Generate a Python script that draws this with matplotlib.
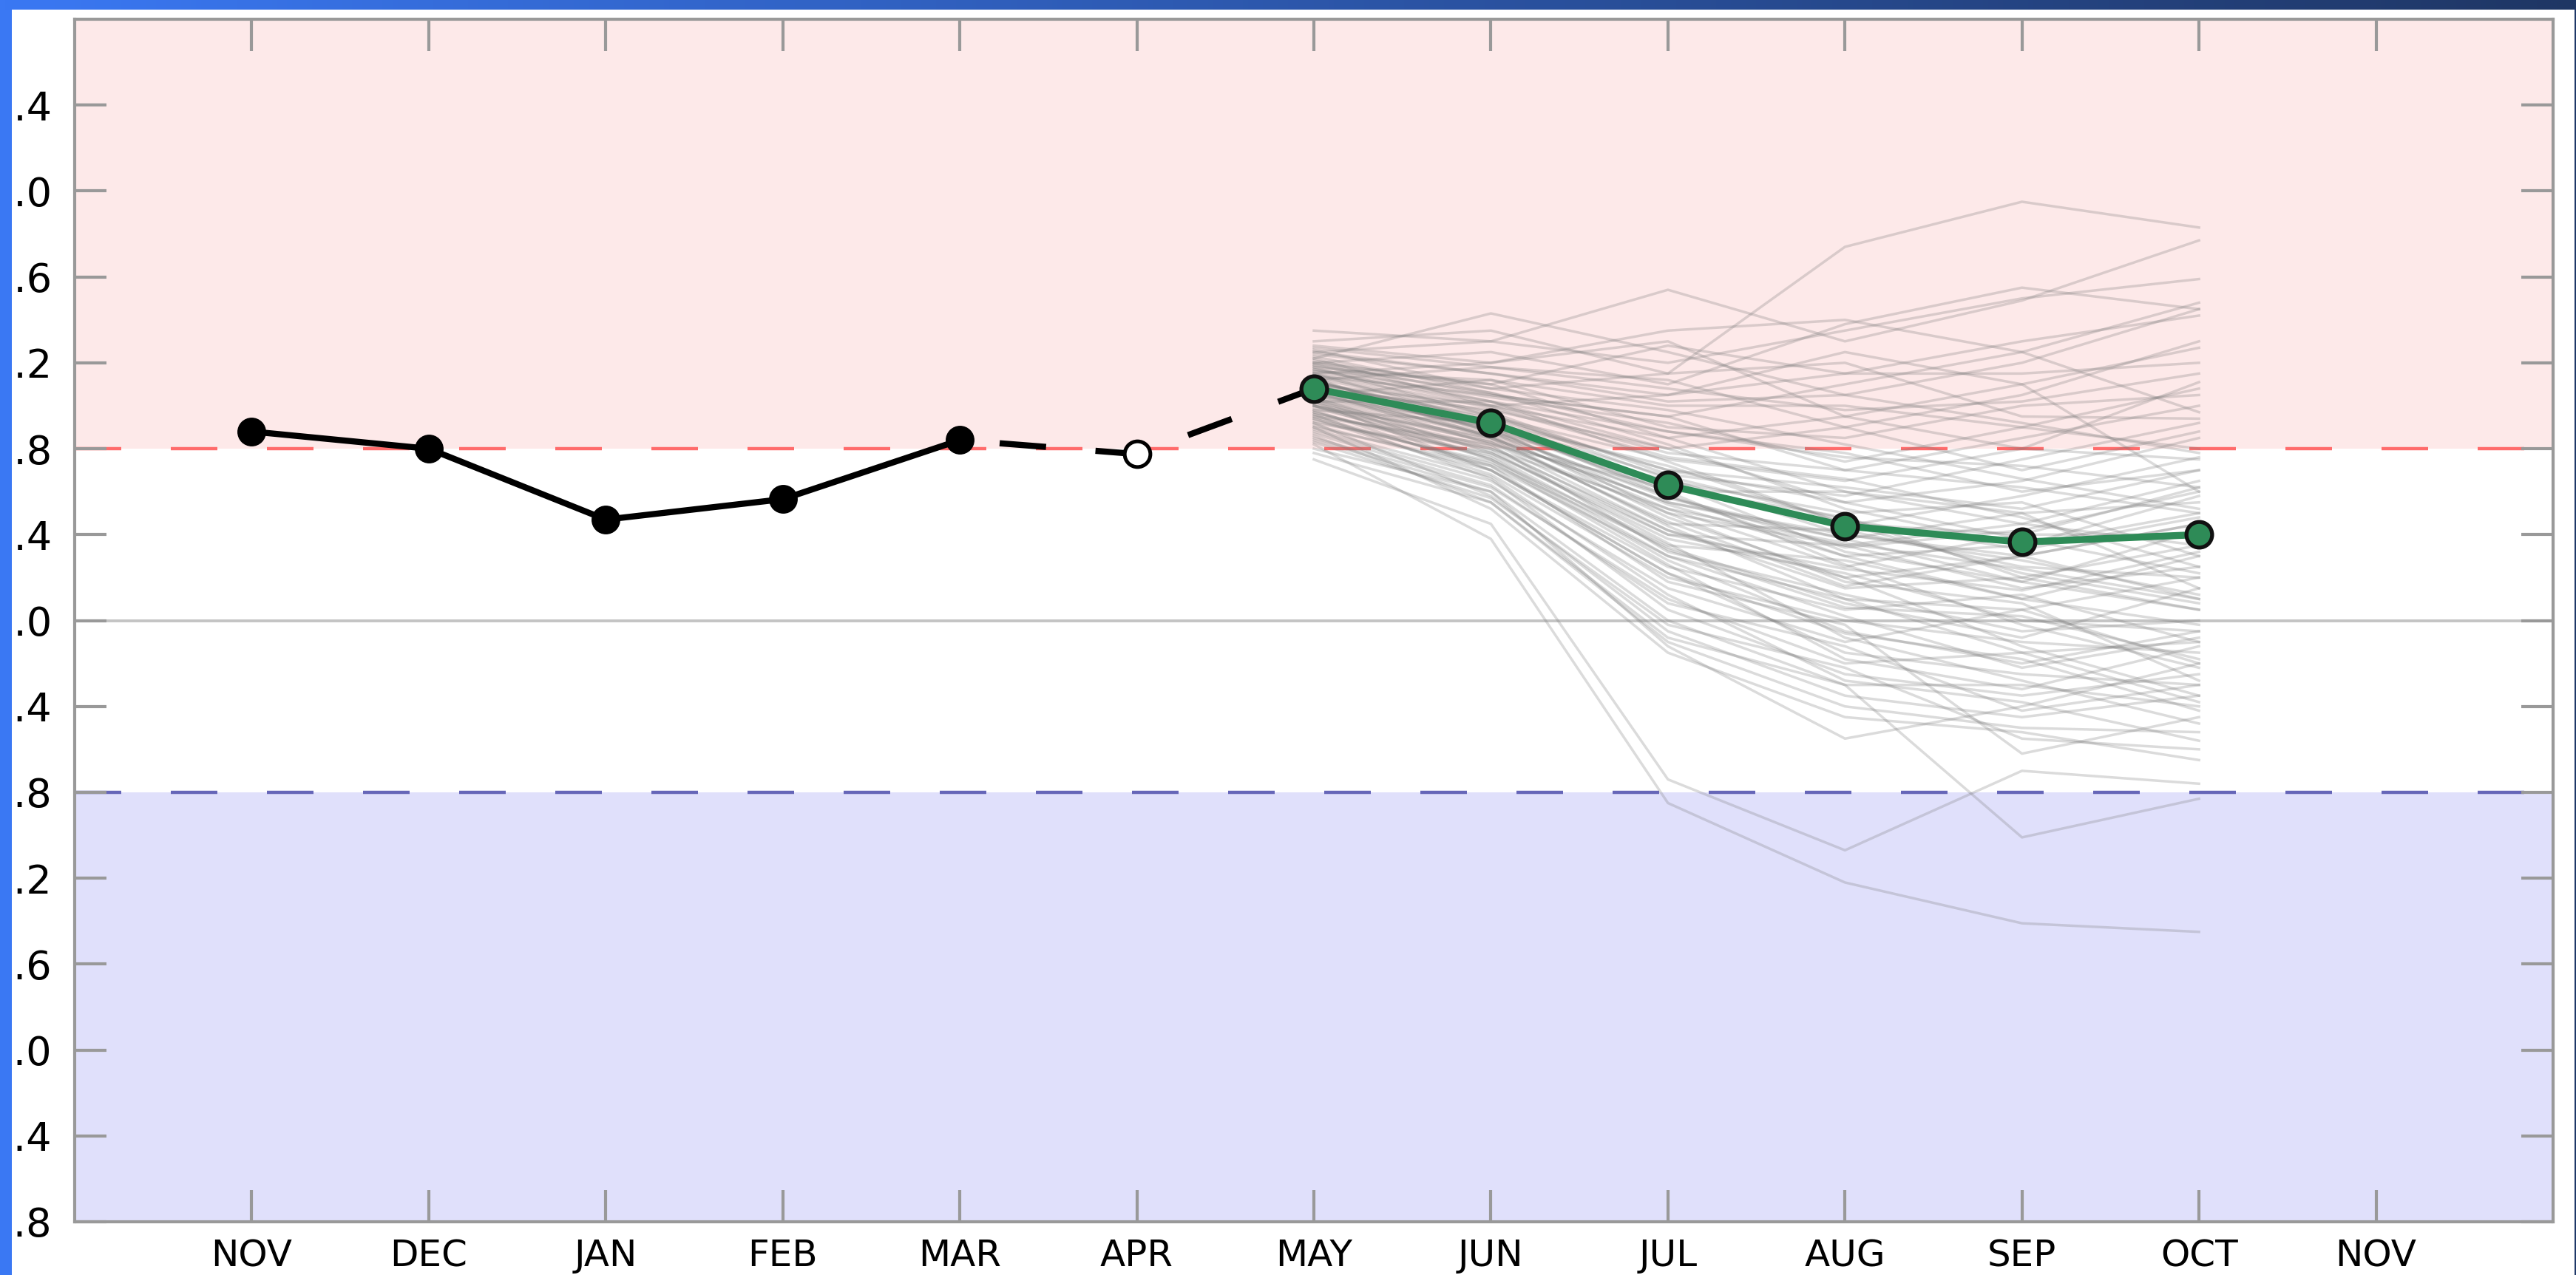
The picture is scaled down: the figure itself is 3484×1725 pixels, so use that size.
import numpy as np
import matplotlib
matplotlib.use("Agg")
import matplotlib.pyplot as plt
from matplotlib.patches import Rectangle

plt.rcParams['font.family'] = ['DejaVu Sans']
plt.rcParams['lines.scale_dashes'] = False

# ---------------- data ----------------
month_labels = ['NOV', 'DEC', 'JAN', 'FEB', 'MAR', 'APR', 'MAY',
                'JUN', 'JUL', 'AUG', 'SEP', 'OCT', 'NOV']
obs_months = [0, 1, 2, 3, 4]                 # NOV .. MAR
obs_values = [0.88, 0.80, 0.47, 0.565, 0.84]
link_months = [4, 5, 6]                      # MAR, APR, MAY (dashed)
link_values = [0.84, 0.775, 1.08]
open_month = [5]                             # APR (open marker)
open_value = [0.775]
fc_months = [6, 7, 8, 9, 10, 11]             # MAY .. OCT
fc_mean = [1.08, 0.92, 0.63, 0.44, 0.365, 0.40]

# ensemble members: MAY, JUN, JUL, AUG, SEP, OCT
ensemble_members = [
    [1.30, 1.35, 1.15, 1.74, 1.95, 1.83],
    [1.22, 1.43, 1.25, 1.05, 1.20, 1.45],
    [1.25, 1.30, 1.54, 1.30, 1.49, 1.77],
    [1.35, 1.30, 1.20, 1.35, 1.50, 1.59],
    [1.28, 1.20, 1.35, 1.40, 1.25, 1.48],
    [1.20, 1.25, 1.10, 1.38, 1.55, 1.45],
    [1.18, 1.10, 1.28, 1.15, 1.30, 1.42],
    [1.24, 1.15, 1.05, 1.25, 1.10, 1.27],
    [1.15, 1.20, 1.30, 0.95, 0.80, 1.11],
    [1.20, 1.05, 0.95, 1.10, 1.25, 0.97],
    [1.12, 1.18, 1.12, 0.90, 1.05, 1.30],
    [1.26, 1.08, 1.15, 1.20, 0.95, 0.94],
    [1.10, 1.00, 1.05, 1.15, 1.15, 1.20],
    [1.16, 1.12, 0.90, 0.85, 1.00, 1.05],
    [1.05, 1.12, 1.00, 1.00, 0.90, 0.80],
    [1.22, 1.00, 0.85, 0.95, 1.10, 0.60],
    [1.14, 1.05, 0.95, 0.70, 0.85, 1.00],
    [1.08, 0.98, 0.80, 0.90, 0.70, 0.88],
    [1.18, 0.95, 0.75, 0.65, 0.80, 0.75],
    [1.02, 1.02, 0.88, 0.78, 0.60, 0.70],
    [1.10, 0.95, 0.70, 0.55, 0.65, 0.85],
    [1.05, 0.90, 0.60, 0.60, 0.50, 0.55],
    [0.98, 0.92, 0.72, 0.45, 0.40, 0.62],
    [1.12, 0.88, 0.65, 0.50, 0.55, 0.30],
    [1.00, 0.85, 0.55, 0.40, 0.30, 0.45],
    [1.06, 0.90, 0.50, 0.35, 0.45, 0.65],
    [0.95, 0.82, 0.62, 0.48, 0.20, 0.35],
    [1.15, 0.92, 0.58, 0.30, 0.35, 0.50],
    [1.08, 0.85, 0.45, 0.42, 0.25, 0.20],
    [1.00, 0.80, 0.52, 0.25, 0.40, 0.40],
    [0.92, 0.78, 0.40, 0.35, 0.15, 0.25],
    [1.10, 0.88, 0.48, 0.20, 0.30, 0.10],
    [1.03, 0.75, 0.35, 0.28, 0.10, 0.30],
    [0.96, 0.80, 0.42, 0.15, 0.20, 0.05],
    [1.13, 0.85, 0.55, 0.38, 0.50, 0.15],
    [0.90, 0.72, 0.30, 0.10, 0.05, 0.20],
    [1.04, 0.78, 0.38, 0.22, 0.00, -0.05],
    [0.98, 0.70, 0.25, 0.05, 0.12, -0.10],
    [1.07, 0.82, 0.32, 0.12, -0.05, 0.00],
    [0.94, 0.68, 0.20, 0.00, -0.10, -0.15],
    [1.00, 0.75, 0.28, -0.05, -0.20, -0.05],
    [0.88, 0.65, 0.15, -0.10, 0.05, -0.20],
    [1.02, 0.70, 0.22, -0.15, -0.25, -0.30],
    [0.85, 0.62, 0.10, -0.20, -0.15, -0.10],
    [0.96, 0.66, 0.05, -0.25, -0.35, -0.25],
    [0.80, 0.60, 0.00, -0.30, -0.30, -0.40],
    [0.92, 0.58, -0.05, -0.35, -0.45, -0.35],
    [0.78, 0.55, -0.10, -0.40, -0.50, -0.52],
    [0.90, 0.52, -0.15, -0.45, -0.52, -0.65],
    [0.84, 0.60, -0.12, -0.55, -0.40, -0.20],
    [0.75, 0.45, -0.74, -1.07, -0.70, -0.76],
    [0.82, 0.38, -0.85, -1.22, -1.41, -1.45],
    [0.86, 0.55, -0.08, -0.30, -1.01, -0.83],
    [0.95, 0.72, 0.18, -0.02, -0.62, -0.45],
    [1.20, 1.10, 0.85, 0.60, 0.45, 0.35],
    [1.17, 1.00, 0.78, 0.70, 0.62, 0.50],
    [1.23, 1.06, 0.82, 0.52, 0.35, 0.58],
    [1.14, 0.97, 0.68, 0.58, 0.75, 0.92],
    [1.11, 0.93, 0.64, 0.32, 0.18, 0.42],
    [1.19, 1.02, 0.74, 0.45, 0.22, 0.08],
    [1.06, 0.86, 0.44, 0.10, -0.15, -0.38],
    [0.99, 0.79, 0.36, -0.08, -0.28, -0.48],
    [1.09, 0.91, 0.60, 0.26, -0.02, -0.22],
    [0.93, 0.74, 0.26, -0.18, -0.32, -0.12],
    [1.01, 0.83, 0.50, 0.18, 0.08, -0.28],
    [1.13, 0.96, 0.66, 0.40, 0.28, 0.12],
    [1.05, 0.87, 0.58, 0.34, 0.42, 0.60],
    [0.97, 0.76, 0.30, 0.02, -0.22, -0.08],
    [1.11, 0.94, 0.70, 0.62, 0.52, 0.70],
    [1.21, 1.08, 0.98, 0.82, 0.66, 0.52],
    [1.17, 1.04, 0.92, 0.74, 0.90, 1.08],
    [0.89, 0.67, 0.12, -0.28, -0.38, -0.56],
    [1.03, 0.84, 0.46, 0.16, 0.30, 0.45],
    [1.15, 0.99, 0.76, 0.66, 0.48, 0.25],
    [1.25, 1.15, 1.02, 1.05, 0.92, 0.78],
    [0.94, 0.73, 0.34, 0.08, -0.08, 0.15],
    [1.08, 0.89, 0.54, 0.30, 0.10, -0.02],
    [0.87, 0.63, 0.08, -0.12, -0.42, -0.30],
    [1.00, 0.81, 0.40, 0.24, 0.14, 0.32],
    [1.12, 0.90, 0.62, 0.44, 0.58, 0.76],
    [1.19, 1.06, 0.88, 0.76, 0.72, 0.62],
    [0.91, 0.70, 0.22, -0.06, -0.18, -0.42],
    [1.04, 0.86, 0.52, 0.36, 0.24, 0.10],
    [1.16, 1.02, 0.80, 0.55, 0.38, 0.22],
    [0.83, 0.57, -0.02, -0.22, -0.55, -0.60],
    [1.07, 0.92, 0.67, 0.47, 0.33, 0.48],
    [0.97, 0.77, 0.33, 0.06, 0.02, -0.18],
    [1.27, 1.18, 1.08, 0.98, 1.02, 1.15],
    [1.02, 0.83, 0.42, 0.20, -0.12, -0.35],
    [1.09, 0.88, 0.57, 0.38, 0.18, 0.05],
]

y_ticks = [-2.8, -2.4, -2.0, -1.6, -1.2, -0.8, -0.4, 0.0,
           0.4, 0.8, 1.2, 1.6, 2.0, 2.4]
warm_threshold = 0.8
cold_threshold = -0.8

# ---------------- figure ----------------
W, H = 3484, 1725
DPI = 200
fig = plt.figure(figsize=(W / DPI, H / DPI), dpi=DPI, facecolor='white')
ax = fig.add_axes([101 / W, 72 / H, (3453 - 101) / W, (1653 - 26) / H])

ax.set_xlim(-1, 13)
ax.set_ylim(-2.8, 2.8)

# shaded regions
ax.axhspan(warm_threshold, 2.8, color='#fde9e9', lw=0, zorder=0)
ax.axhspan(-2.8, cold_threshold, color='#e0e0fb', lw=0, zorder=0)

# zero line and thresholds
ax.axhline(0.0, color='#c4c4c4', lw=1.4, zorder=1)
px = 72.0 / DPI
ax.axhline(warm_threshold, color='#ff6b6b', lw=1.6,
           linestyle=(0, (63 * px, 67 * px)), zorder=1)
ax.axhline(cold_threshold, color='#6666b8', lw=1.6,
           linestyle=(0, (63 * px, 67 * px)), zorder=1)

# ensemble
for member in ensemble_members:
    ax.plot(fc_months, member, color='#7a7a7a', alpha=0.27, lw=1.25, zorder=2)

# observations
ax.plot(link_months, link_values, color='black', lw=3.0,
        linestyle=(76 * px, (63 * px, 67 * px)), zorder=3)
ax.plot(obs_months, obs_values, color='black', lw=3.0, marker='o',
        markersize=13, markerfacecolor='black', markeredgecolor='black', zorder=4)
ax.plot(open_month, open_value, linestyle='none', marker='o', markersize=12.5,
        markerfacecolor='white', markeredgecolor='black', markeredgewidth=1.8, zorder=4)

# forecast mean
ax.plot(fc_months, fc_mean, color='#2e8b57', lw=3.4, marker='o', markersize=12.5,
        markerfacecolor='#2e8b57', markeredgecolor='#111111', markeredgewidth=1.9,
        zorder=5)

# axes styling
ax.set_xticks(range(len(month_labels)))
ax.set_xticklabels(month_labels)
ax.set_yticks(y_ticks)
ax.set_yticklabels(['%.1f' % v for v in y_ticks])
for s in ax.spines.values():
    s.set_color('#999999')
    s.set_linewidth(1.5)
    s.set_zorder(6)
ax.tick_params(axis='both', direction='in', length=15.5, width=1.5,
               color='#999999', top=True, right=True, labelcolor='black')
ax.tick_params(axis='x', labelsize=18, pad=8)
ax.tick_params(axis='y', labelsize=19.5, pad=11)

# window frame (screenshot border)
fig.add_artist(Rectangle((0, 0), 16 / W, 1, transform=fig.transFigure,
                         facecolor='#3a78f3', edgecolor='none', zorder=20))
fig.add_artist(Rectangle((3482 / W, 0), 2 / W, 1, transform=fig.transFigure,
                         facecolor='#1f3868', edgecolor='none', zorder=20))
top_ax = fig.add_axes([0, 1 - 13 / H, 1, 13 / H], zorder=20)
c0 = np.array([58, 120, 243]) / 255.0
c1 = np.array([31, 54, 100]) / 255.0
t = np.linspace(0, 1, 512)[None, :, None]
grad = c0[None, None, :] * (1 - t) + c1[None, None, :] * t
top_ax.imshow(grad, aspect='auto', extent=[0, 1, 0, 1])
top_ax.set_axis_off()

fig.savefig('out.png', dpi=DPI, facecolor='white')
